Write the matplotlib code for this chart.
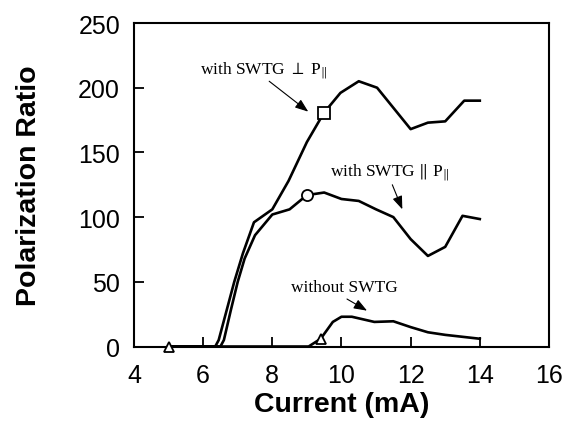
import matplotlib.pyplot as plt

plt.rcParams['mathtext.fontset'] = 'stix'

# perpendicular SWTG curve
x_perp = [5.0, 6.35, 6.45, 6.65, 6.9, 7.15, 7.47, 8.0, 8.47, 9.0, 9.49, 9.97, 10.5, 11.03, 12.0, 12.5, 13.0, 13.55, 14.0]
y_perp = [0, 0, 5, 25, 50, 72, 96, 106, 128, 158, 180.5, 196, 205, 200, 168, 173, 174, 190, 190]

# parallel SWTG curve
x_par = [5.0, 6.5, 6.6, 6.8, 7.0, 7.2, 7.5, 8.0, 8.5, 9.0, 9.5, 10.0, 10.5, 11.0, 11.5, 12.0, 12.5, 13.0, 13.5, 14.0]
y_par = [0, 0, 5, 28, 50, 68, 86, 102, 106, 117, 119, 114, 112.5, 106, 100, 83, 70, 77, 101, 98.5]

# no SWTG
x_none = [5.0, 9.05, 9.4, 9.75, 10.0, 10.3, 10.95, 11.5, 12.0, 12.5, 13.0, 14.0]
y_none = [0, 0, 6, 19, 23, 23, 19, 19.5, 15, 11, 9, 6]

# single marker on each curve
mark_perp = (9.49, 180.5)
mark_par = (9.0, 117)
mark_none = [(5.0, 0), (9.4, 6)]

fig = plt.figure(figsize=(5.66, 4.39), dpi=100)
ax = fig.add_axes([0.2367, 0.2084, 0.7332, 0.7369])

lw = 1.9
ax.plot(x_perp, y_perp, color='black', lw=lw, zorder=3)
ax.plot(x_par, y_par, color='black', lw=lw, zorder=3)
ax.plot(x_none, y_none, color='black', lw=lw, zorder=3)

ax.plot(*mark_perp, marker='s', ms=8, mfc='white', mec='black', mew=1.3, zorder=4)
ax.plot(*mark_par, marker='o', ms=8, mfc='white', mec='black', mew=1.3, zorder=4)
for mx, my in mark_none:
    ax.plot(mx, my, marker='^', ms=7, mfc='white', mec='black', mew=1.3, zorder=4, clip_on=False)

arrow = dict(arrowstyle='-|>,head_length=0.8,head_width=0.3', color='black', lw=0.8,
             shrinkA=0, shrinkB=0)
serif = 'Liberation Serif'
ax.text(7.74, 214, r'with SWTG $\perp$ P$_{\|}$', ha='center', va='center', fontsize=12.5, family=serif)
ax.annotate('', xy=(9.04, 181.5), xytext=(7.91, 205), arrowprops=arrow)

ax.text(11.39, 135, r'with SWTG $\|$ P$_{\|}$', ha='center', va='center', fontsize=12.5, family=serif)
ax.annotate('', xy=(11.76, 106), xytext=(11.47, 125), arrowprops=arrow)

ax.text(10.09, 46, 'without SWTG', ha='center', va='center', fontsize=12.5, family=serif)
ax.annotate('', xy=(10.74, 27.7), xytext=(10.16, 36.7), arrowprops=arrow)

ax.set_xlim(4, 16)
ax.set_ylim(0, 250)
ax.set_xticks([4, 6, 8, 10, 12, 14, 16])
ax.set_yticks([0, 50, 100, 150, 200, 250])
ax.tick_params(direction='in', length=7, width=1.3, labelsize=18)
ax.tick_params(axis='x', pad=12)
ax.tick_params(axis='y', pad=10)
for lab in ax.get_xticklabels() + ax.get_yticklabels():
    lab.set_family('Liberation Sans')
for s in ax.spines.values():
    s.set_linewidth(1.5)

ax.set_xlabel('Current (mA)', fontsize=20.5, fontweight='bold', family='Liberation Sans', labelpad=3)
ax.set_ylabel('Polarization Ratio', fontsize=20.5, fontweight='bold', family='Liberation Sans', labelpad=26)

fig.savefig('out.png', dpi=100)
